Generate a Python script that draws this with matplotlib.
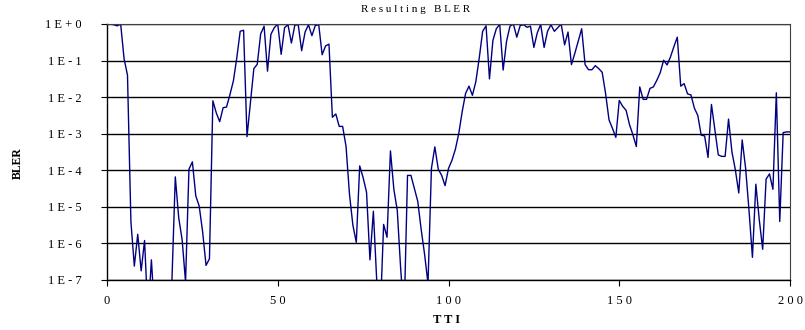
import numpy as np
import matplotlib
matplotlib.use("Agg")
import matplotlib.pyplot as plt
from matplotlib.ticker import FixedLocator, FixedFormatter

# TTI index and log10(BLER) (values below 1E-7 drawn off-axis)
tti = np.arange(0, 201)
bler_log10 = [
    0.0, 0.0, -0.02, -0.05, 0.0, -0.95, -1.4, -5.4, -6.62, -5.75,
    -6.75, -5.92, -8.0, -6.45, -8.0, -8.0, -8.0, -8.0, -8.0, -7.05,
    -4.18, -5.3, -5.9, -7.05, -3.97, -3.77, -4.7, -4.98, -5.68, -6.6,
    -6.42, -2.1, -2.43, -2.67, -2.29, -2.27, -1.93, -1.56, -0.93, -0.2,
    -0.17, -3.08, -2.15, -1.22, -1.1, -0.27, -0.06, -1.29, -0.28, -0.1,
    0.0, -0.83, -0.1, -0.02, -0.52, -0.03, -0.02, -0.73, -0.22, -0.02,
    -0.32, -0.04, -0.02, -0.84, -0.6, -0.55, -2.55, -2.46, -2.8, -2.8,
    -3.35, -4.65, -5.5, -5.97, -3.88, -4.2, -4.6, -6.45, -5.12, -7.05,
    -8.0, -5.48, -5.83, -3.47, -4.52, -5.1, -6.7, -8.0, -4.14, -4.14,
    -4.5, -4.85, -5.62, -6.3, -7.1, -3.95, -3.36, -3.97, -4.14, -4.42,
    -3.95, -3.73, -3.43, -3.0, -2.4, -1.9, -1.7, -1.95, -1.58, -0.93,
    -0.2, -0.05, -1.5, -0.45, -0.13, -0.01, -1.26, -0.47, -0.06, 0.0,
    -0.36, -0.04, -0.02, -0.09, -0.06, -0.64, -0.24, -0.01, -0.64, -0.2,
    -0.02, -0.2, -0.1, 0.0, -0.57, -0.22, -1.11, -0.8, -0.47, -0.13,
    -1.11, -1.25, -1.25, -1.14, -1.22, -1.32, -1.9, -2.62, -2.85, -3.1,
    -2.09, -2.25, -2.36, -2.75, -3.03, -3.35, -1.72, -2.06, -2.06, -1.76,
    -1.72, -1.54, -1.33, -0.99, -1.12, -0.9, -0.62, -0.36, -1.7, -1.63,
    -1.91, -1.94, -2.3, -2.5, -3.04, -3.06, -3.65, -2.2, -2.9, -3.58,
    -3.62, -3.62, -2.6, -3.5, -3.99, -4.62, -3.17, -3.94, -5.1, -6.38,
    -4.38, -5.35, -6.16, -4.24, -4.1, -4.52, -1.88, -5.4, -2.97, -2.95,
    -2.95,
]
bler = 10.0 ** np.array(bler_log10)

ytick_values = [1e-7, 1e-6, 1e-5, 1e-4, 1e-3, 1e-2, 1e-1, 1e0]
ytick_labels = ["1 E - 7", "1 E - 6", "1 E - 5", "1 E - 4",
                "1 E - 3", "1 E - 2", "1 E - 1", "1 E + 0"]
xtick_values = [0, 50, 100, 150, 200]
xtick_labels = ["0", "5 0", "1 0 0", "1 5 0", "2 0 0"]

plt.rcParams['font.family'] = ['Liberation Serif', 'DejaVu Serif']

fig = plt.figure(figsize=(8.05, 3.3), dpi=100)
ax = fig.add_axes([107/805, 1 - 280/330, (790 - 107)/805, (280 - 24)/330])

ax.plot(tti, bler, color="#000080", linewidth=1.0, clip_on=True)

ax.set_yscale("log")
ax.set_ylim(1e-7, 1e0)
ax.set_xlim(0, 200)
ax.yaxis.set_major_locator(FixedLocator(ytick_values))
ax.yaxis.set_major_formatter(FixedFormatter(ytick_labels))
ax.yaxis.set_minor_locator(FixedLocator([]))
ax.xaxis.set_major_locator(FixedLocator(xtick_values))
ax.xaxis.set_major_formatter(FixedFormatter(xtick_labels))

ax.grid(axis="y", which="major", color="black", linewidth=1.0)
ax.set_axisbelow(True)
ax.tick_params(axis="both", which="major", direction="out", length=4,
               width=0.8, color="black", labelsize=9)
ax.tick_params(axis="y", pad=14)
ax.tick_params(axis="x", pad=7)

for side in ["left", "bottom"]:
    ax.spines[side].set_color("black")
    ax.spines[side].set_linewidth(1.0)
for side in ["top", "right"]:
    ax.spines[side].set_color("#404040")
    ax.spines[side].set_linewidth(0.8)

fig.text(416/805, 1 - 10/330, "R e s u l t i n g   B L E R", ha="center",
         va="center", fontsize=8)
fig.text(447/805, 1 - 320/330, "T T I", ha="center", va="center",
         fontsize=9, fontweight="bold")
fig.text(18/805, 1 - 163/330, "BLER", ha="center", va="center",
         fontsize=8.5, fontweight="bold", rotation=90)

fig.savefig("out.png", dpi=100)
